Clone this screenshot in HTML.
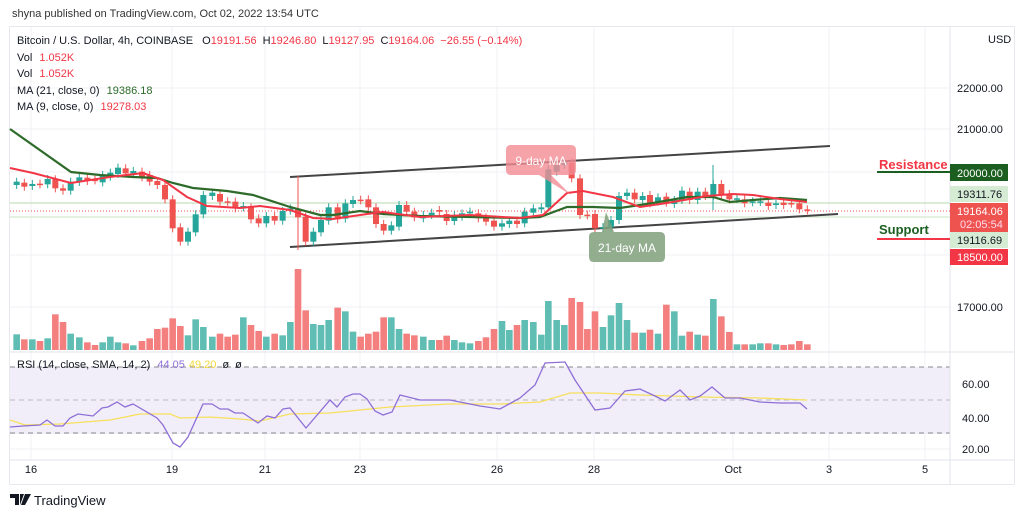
<!DOCTYPE html>
<html><head><meta charset="utf-8"><style>
body{margin:0;background:#fff;width:1024px;height:518px;overflow:hidden;font-family:"Liberation Sans",sans-serif}
svg{position:absolute;left:0;top:0}
</style></head><body>
<svg id="s" width="1024" height="518" xmlns="http://www.w3.org/2000/svg" font-family="Liberation Sans, sans-serif">
<rect x="9.5" y="26.5" width="1005" height="458" fill="#fff" stroke="#e6e8ee"/>
<g id="grid" stroke="#f0f1f4" stroke-width="1"></g>
<rect x="10" y="367" width="940" height="67" fill="#f1eefa"/>
<g stroke="#888" stroke-dasharray="5,4" stroke-width="1"><line x1="10" y1="367" x2="950" y2="367"/><line x1="10" y1="400" x2="950" y2="400" stroke="#bbb"/><line x1="10" y1="433" x2="950" y2="433"/></g>
<line x1="10" y1="352" x2="1014" y2="352" stroke="#e0e3eb"/>
<line x1="10" y1="460" x2="1014" y2="460" stroke="#e0e3eb"/>
<line x1="950" y1="27" x2="950" y2="484" stroke="#e0e3eb"/>
<g id="vol"></g>
<line x1="10" y1="203" x2="950" y2="203" stroke="#cfe6c8" stroke-width="1.5"/>
<line x1="10" y1="217" x2="950" y2="217" stroke="#dcecd6" stroke-width="1.5"/>
<line x1="10" y1="211" x2="950" y2="211" stroke="#ef5350" stroke-dasharray="1,2"/>
<line x1="290" y1="177" x2="830" y2="146" stroke="#444" stroke-width="2"/>
<line x1="290" y1="247" x2="838" y2="214" stroke="#444" stroke-width="2"/>
<g id="cd"></g>
<polyline fill="none" stroke="#2e6b2a" stroke-width="2.2" points="10,129 71,172 100,175 133,177 157,178 173,183 193,188 227,191 253,195 290,207 320,215 333,215 360,211 383,214 420,216 520,218 540,217 567,207 593,207 620,208 653,203 687,197 713,197 730,202 753,200 780,198 807,200"/>
<polyline fill="none" stroke="#f23645" stroke-width="2" points="10,168 33,173 71,183 110,177 143,173 163,180 187,197 207,206 240,208 260,206 290,210 313,218 333,219 367,214 383,212 420,217 470,215 520,218 543,215 567,193 583,191 613,197 640,207 667,203 707,196 733,194 753,195 780,199 807,202"/>
<path d="M506,150 q0,-5 5,-5 h60 q5,0 5,5 v20 q0,5 -5,5 h-20 l20,20 l-32,-20 h-28 q-5,0 -5,-5z" fill="#f28b94" opacity="0.8"/>
<text x="541" y="165" font-size="12" fill="#fff" text-anchor="middle">9-day MA</text>
<path d="M589,237 q0,-5 5,-5 h8 l4,-20 l8,20 h46 q5,0 5,5 v20 q0,5 -5,5 h-66 q-5,0 -5,-5z" fill="#7fa07b" opacity="0.85"/>
<text x="627" y="252" font-size="12" fill="#fff" text-anchor="middle">21-day MA</text>
<polyline fill="none" stroke="#f7e05c" stroke-width="1.3" points="10,420 25,425 60,424 110,420 140,414 170,414 180,418 210,417 240,419 260,421 290,414 330,413 360,410 390,407 450,404 500,404 540,402 570,393 600,393 640,395 700,397 760,398 807,400"/>
<polyline fill="none" stroke="#8e6fd6" stroke-width="1.3" points="10,427 23,426 40,425 47,420 55,426 63,426 70,418 78,414 93,416 102,408 108,407 117,402 125,407 133,404 157,418 163,425 173,443 180,447 188,437 203,404 212,404 220,409 228,409 235,413 243,413 258,423 267,416 275,418 283,409 290,408 306,428 330,400 337,407 345,397 353,394 360,394 367,399 375,411 383,415 392,412 400,395 420,400 450,400 480,406 500,409 520,398 535,385 545,363 565,362 575,380 595,410 610,408 625,391 640,389 655,396 665,401 680,390 690,400 700,396 712,387 725,398 740,398 760,402 780,403 800,403 807,409"/>
<g font-size="11" fill="#131722">
<text x="12" y="17" fill="#333">shyna published on TradingView.com, Oct 02, 2022 13:54 UTC</text>
<text x="17" y="44">Bitcoin / U.S. Dollar, 4h, COINBASE <tspan dx="6">O</tspan><tspan fill="#f23645">19191.56</tspan><tspan dx="6">H</tspan><tspan fill="#f23645">19246.80</tspan><tspan dx="6">L</tspan><tspan fill="#f23645">19127.95</tspan><tspan dx="6">C</tspan><tspan fill="#f23645">19164.06</tspan><tspan dx="6" fill="#f23645">−26.55 (−0.14%)</tspan></text>
<text x="17" y="61">Vol <tspan fill="#f23645" dx="4">1.052K</tspan></text>
<text x="17" y="77">Vol <tspan fill="#f23645" dx="4">1.052K</tspan></text>
<text x="17" y="94">MA (21, close, 0) <tspan fill="#2e6b2a" dx="4">19386.18</tspan></text>
<text x="17" y="110">MA (9, close, 0) <tspan fill="#f23645" dx="4">19278.03</tspan></text>
<text x="17" y="368">RSI (14, close, SMA, 14, 2) <tspan fill="#8e6fd6" dx="4">44.05</tspan><tspan fill="#f2d83c" dx="4">49.20</tspan><tspan dx="6">ø</tspan><tspan dx="6">ø</tspan></text>
<text x="988" y="43">USD</text>
<text x="957" y="92">22000.00</text>
<text x="957" y="133">21000.00</text>
<text x="957" y="311">17000.00</text>
<text x="962" y="388">60.00</text>
<text x="962" y="422">40.00</text>
<text x="962" y="453">20.00</text>
<g text-anchor="middle"><text x="31" y="473">16</text><text x="172" y="473">19</text><text x="265" y="473">21</text><text x="360" y="473">23</text><text x="497" y="473">26</text><text x="594" y="473">28</text><text x="733" y="473">Oct</text><text x="829" y="473">3</text><text x="925" y="473">5</text></g>
</g>
<text x="879" y="169" font-size="13" font-weight="bold" fill="#f23645">Resistance</text>
<line x1="877" y1="172" x2="950" y2="172" stroke="#1b5e20" stroke-width="2"/>
<text x="879" y="234" font-size="13" font-weight="bold" fill="#1b5e20">Support</text>
<line x1="877" y1="239" x2="950" y2="239" stroke="#f23645" stroke-width="2"/>
<g font-size="11">
<rect x="950" y="164" width="58" height="17" fill="#1b5e20"/><text x="957" y="177" fill="#fff">20000.00</text>
<rect x="950" y="186" width="58" height="16" fill="#d6ebd3"/><text x="957" y="198" fill="#131722">19311.76</text>
<rect x="950" y="203" width="58" height="29" fill="#ef5350"/><text x="957" y="215" fill="#fff">19164.06</text><text x="960" y="228" fill="#fde">02:05:54</text>
<rect x="950" y="232" width="58" height="16" fill="#d6ebd3"/><text x="957" y="244" fill="#131722">19116.69</text>
<rect x="950" y="249" width="58" height="16" fill="#f23645"/><text x="957" y="261" fill="#fff">18500.00</text>
</g>
<g transform="translate(10,494)"><path d="M0,0 h9 v11 h-4 v-7 h-5z M10,0 h4 l-4,11z M15,0 h6 l-6,11 h-4z" fill="#131722"/></g>
<text x="34" y="505" font-size="13" fill="#131722">TradingView</text>
</svg>
<script>
var ns="http://www.w3.org/2000/svg";
function el(p,t,a){var e=document.createElementNS(ns,t);for(var k in a)e.setAttribute(k,a[k]);p.appendChild(e);return e;}
var g=document.getElementById('grid');
[31,172,265,360,497,594,733,829,925].forEach(function(x){el(g,'line',{x1:x,y1:27,x2:x,y2:460});});
[88,129,172,255,307,384,418,449].forEach(function(y){el(g,'line',{x1:10,y1:y,x2:950,y2:y});});
// zoom4 candles [zx, zy1, zy2, up]
var A=[[50,185,195,1],[73,188,200,0],[97,192,198,1],[120,191,193,0],[143,177,193,1],[166,178,205,0],[189,205,212,0],[212,185,212,1],[238,172,186,1],[262,173,183,0],[285,179,181,0],[308,165,187,1],[331,158,170,1],[354,143,162,1],[377,145,160,0],[400,153,160,1],[426,155,172,0],[449,165,185,0],[472,183,195,0],[495,195,238,0],[518,238,325,0],[541,322,365,0],[564,335,365,1],[587,283,337,1],[610,225,283,1],[637,218,228,1],[660,222,245,0],[683,244,246,0],[706,245,265,0],[730,258,262,1],[753,262,298,0],[776,295,310,0],[799,288,310,1],[824,288,302,0],[848,273,302,1],[871,265,272,1],[894,268,292,0],[917,290,365,0],[940,335,365,1],[963,300,337,1],[986,262,302,1],[1013,262,298,0],[1036,250,296,1],[1059,240,252,1],[1082,239,241,0],[1105,238,262,0],[1128,262,312,0],[1151,312,332,0],[1174,316,332,1],[1197,255,320,1],[1220,255,275,0],[1243,275,292,0]];
var AV=[643,658,658,663,655,583,606,641,652,667,675,667,650,667,670,676,663,655,627,623,595,618,646,598,621,650,641,650,644,592,615,633,650,641,646,606,447,571,612,615,600,563,574,635,650,641,635,592,592,627,641,646];
var B=[[10,285,295,1],[35,278,285,1],[58,270,275,0],[80,282,303,0],[103,285,303,1],[126,280,290,1],[150,275,280,1],[175,280,295,0],[198,292,305,0],[222,302,320,0],[246,310,320,1],[268,302,312,1],[291,302,312,0],[314,275,310,1],[340,265,278,1],[364,262,268,1],[385,148,262,1],[410,135,155,1],[433,128,135,1],[455,128,175,0],[480,175,285,0],[502,284,286,0],[525,282,325,0],[549,321,323,1],[573,300,322,1],[597,228,300,1],[621,218,228,1],[644,218,238,0],[668,228,240,1],[690,225,250,0],[714,232,245,1],[739,230,248,0],[763,240,252,1],[786,212,240,1],[809,215,240,0],[833,215,240,1],[856,215,228,0],[880,192,228,1],[904,192,225,0],[928,222,238,0],[951,235,237,1],[974,238,250,0],[998,244,247,1],[1021,244,246,1],[1045,248,258,0],[1068,250,255,1],[1091,248,255,0],[1114,249,251,0],[1138,250,268,0],[1162,268,271,0]];
var BV=[650,660,660,647,660,667,670,663,652,627,603,630,615,600,606,644,543,600,615,534,546,627,574,621,586,549,600,638,638,629,641,554,574,647,635,644,647,537,589,636,673,673,673,670,670,673,675,673,663,673];
var cd=document.getElementById('cd'),vol=document.getElementById('vol');
function add(arr,vs,ox){arr.forEach(function(c,i){var x=ox+c[0]/3,y1=120+c[1]/3,y2=120+c[2]/3;var col=c[3]?'#26a69a':'#ef5350';
el(cd,'line',{x1:x,y1:y1-4,x2:x,y2:y2+4,stroke:col,'stroke-width':1});
el(cd,'rect',{x:x-3,y:y1,width:6,height:Math.max(1.5,y2-y1),fill:col});
var vt=120+vs[i]/3;el(vol,'rect',{x:x-3.3,y:vt,width:6.6,height:350-vt,fill:c[3]?'#5fbdb3':'#f3807f'});});}
add(A,AV,0);add(B,BV,420);
el(cd,'line',{x1:298,y1:176,x2:298,y2:250,stroke:'#ef5350'});
el(cd,'line',{x1:713,y1:165,x2:713,y2:210,stroke:'#26a69a'});
</script>
</body></html>
